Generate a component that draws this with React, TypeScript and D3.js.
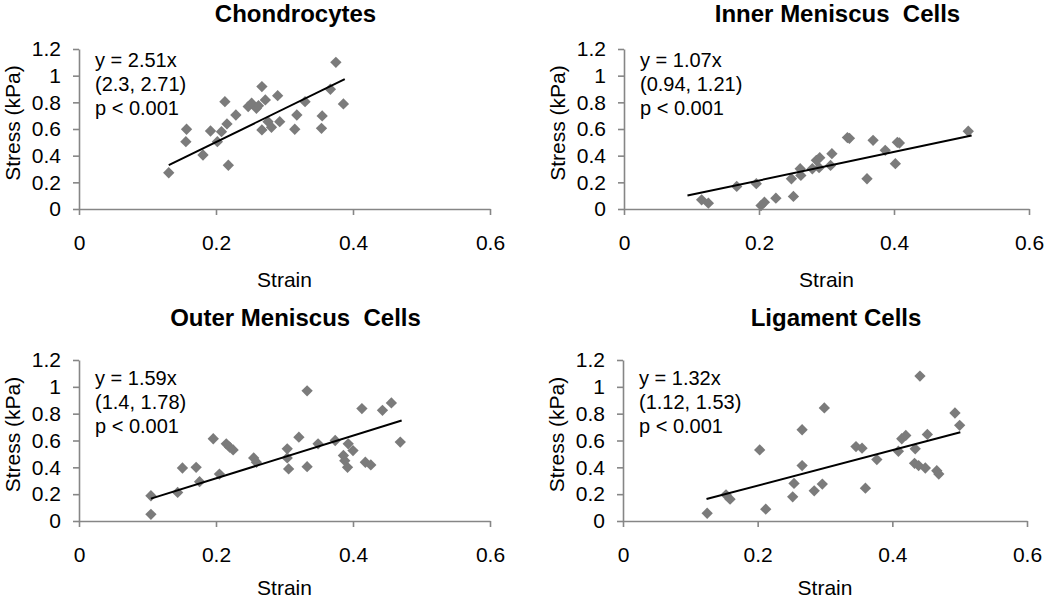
import { useEffect, useRef } from 'react';
import * as d3 from 'd3';

// strain, stress pairs
const chondrocytes: [number, number][] = [
  [0.131, 0.272], [0.157, 0.598], [0.156, 0.505], [0.181, 0.405], [0.192, 0.585],
  [0.202, 0.505], [0.208, 0.58], [0.216, 0.638], [0.213, 0.805], [0.218, 0.328],
  [0.229, 0.705], [0.247, 0.768], [0.252, 0.793], [0.259, 0.755], [0.262, 0.775],
  [0.267, 0.918], [0.272, 0.818], [0.29, 0.85], [0.276, 0.655], [0.267, 0.593],
  [0.281, 0.613], [0.293, 0.655], [0.315, 0.598], [0.318, 0.705], [0.33, 0.805],
  [0.354, 0.605], [0.355, 0.698], [0.367, 0.898], [0.375, 1.1], [0.386, 0.788],
];

const innerMeniscus: [number, number][] = [
  [0.115, 0.069], [0.125, 0.044], [0.167, 0.169], [0.196, 0.19], [0.203, 0.026],
  [0.208, 0.051], [0.225, 0.081], [0.248, 0.227], [0.251, 0.094], [0.261, 0.302],
  [0.262, 0.252], [0.279, 0.302], [0.285, 0.365], [0.29, 0.385], [0.289, 0.31],
  [0.306, 0.327], [0.308, 0.415], [0.331, 0.536], [0.334, 0.53], [0.36, 0.227],
  [0.369, 0.515], [0.387, 0.44], [0.402, 0.34], [0.408, 0.495], [0.405, 0.5],
  [0.51, 0.583],
];

const outerMeniscus: [number, number][] = [
  [0.105, 0.188], [0.105, 0.05], [0.144, 0.213], [0.151, 0.395], [0.171, 0.4],
  [0.176, 0.293], [0.196, 0.613], [0.205, 0.35], [0.215, 0.575], [0.22, 0.55],
  [0.225, 0.53], [0.255, 0.47], [0.259, 0.438], [0.304, 0.538], [0.304, 0.47],
  [0.306, 0.388], [0.321, 0.625], [0.333, 0.97], [0.333, 0.405], [0.349, 0.575],
  [0.374, 0.6], [0.386, 0.488], [0.388, 0.45], [0.393, 0.575], [0.392, 0.4],
  [0.4, 0.525], [0.413, 0.838], [0.418, 0.438], [0.426, 0.418], [0.443, 0.825],
  [0.456, 0.88], [0.469, 0.588],
];

const ligament: [number, number][] = [
  [0.125, 0.058], [0.153, 0.195], [0.159, 0.163], [0.203, 0.53], [0.212, 0.088],
  [0.252, 0.18], [0.254, 0.28], [0.266, 0.68], [0.266, 0.413], [0.284, 0.225],
  [0.296, 0.275], [0.299, 0.843], [0.346, 0.555], [0.355, 0.543], [0.36, 0.245],
  [0.377, 0.458], [0.409, 0.52], [0.414, 0.613], [0.42, 0.638], [0.434, 0.538],
  [0.433, 0.43], [0.441, 1.08], [0.439, 0.413], [0.449, 0.395], [0.452, 0.645],
  [0.466, 0.375], [0.469, 0.35], [0.493, 0.805], [0.5, 0.713],
];

const titles = ['Chondrocytes', 'Inner Meniscus  Cells', 'Outer Meniscus  Cells', 'Ligament Cells'];
const slopes = [2.51, 1.07, 1.59, 1.32];
const fitRanges: [number, number][] = [[0.131, 0.388], [0.094, 0.515], [0.105, 0.471], [0.124, 0.501]];
const equations = [
  ['y = 2.51x', '(2.3, 2.71)', 'p < 0.001'],
  ['y = 1.07x', '(0.94, 1.21)', 'p < 0.001'],
  ['y = 1.59x', '(1.4, 1.78)', 'p < 0.001'],
  ['y = 1.32x', '(1.12, 1.53)', 'p < 0.001'],
];
const xTicks = [0, 0.2, 0.4, 0.6];
const yTicks = [0, 0.2, 0.4, 0.6, 0.8, 1, 1.2];

const FONT = "'Liberation Sans', Arial, sans-serif";
const AXIS_GREY = '#868686';
const MARKER = '#7b7b7b';

const layout = [
  { x0: 79, x1: 490, y0: 209, y1: 49, title: 22, xlab: 287, ann: 66.5 },
  { x0: 624, x1: 1029, y0: 209, y1: 49, title: 22, xlab: 287, ann: 66.5 },
  { x0: 79, x1: 490, y0: 521, y1: 360, title: 326, xlab: 595, ann: 385 },
  { x0: 623, x1: 1027, y0: 521, y1: 360, title: 326, xlab: 595, ann: 385 },
];

const App = () => {
  const svgRef = useRef<SVGSVGElement>(null);

  useEffect(() => {
    const svg = d3.select(svgRef.current);
    svg.selectAll('*').remove();
    const panels = [chondrocytes, innerMeniscus, outerMeniscus, ligament];
    const fmt = (d: d3.NumberValue) => String(+(+d).toFixed(1));

    panels.forEach((data, i) => {
      const L = layout[i];
      const x = d3.scaleLinear().domain([0, 0.6]).range([L.x0, L.x1]);
      const y = d3.scaleLinear().domain([0, 1.2]).range([L.y0, L.y1]);
      const g = svg.append('g');

      const yAxis = g.append('g')
        .attr('transform', `translate(${L.x0},0)`)
        .call(d3.axisLeft(y).tickValues(yTicks).tickFormat(fmt).tickSize(6).tickSizeOuter(0).tickPadding(12));
      const xAxis = g.append('g')
        .attr('transform', `translate(0,${L.y0})`)
        .call(d3.axisBottom(x).tickValues(xTicks).tickFormat(fmt).tickSize(6).tickSizeOuter(0).tickPadding(20));
      [yAxis, xAxis].forEach(a => {
        a.select('.domain').attr('stroke', AXIS_GREY).attr('stroke-width', 1.6);
        a.selectAll('.tick line').attr('stroke', AXIS_GREY).attr('stroke-width', 1.6);
        a.selectAll('.tick text').attr('fill', '#000').style('font-size', '21px').style('font-family', FONT);
      });

      g.selectAll('path.pt')
        .data(data)
        .enter().append('path')
        .attr('class', 'pt')
        .attr('d', d3.symbol(d3.symbolSquare, 64)())
        .attr('transform', d => `translate(${x(d[0])},${y(d[1])}) rotate(45)`)
        .attr('fill', MARKER);

      const line = d3.line<number>().x(d => x(d)).y(d => y(d * slopes[i]));
      g.append('path')
        .attr('d', line(fitRanges[i]))
        .attr('fill', 'none')
        .attr('stroke', '#000')
        .attr('stroke-width', 2);

      g.append('text')
        .attr('x', (L.x0 + L.x1) / 2 + 11)
        .attr('y', L.title)
        .attr('text-anchor', 'middle')
        .style('white-space', 'pre')
        .style('font-family', FONT)
        .style('font-size', '24px')
        .style('font-weight', 'bold')
        .text(titles[i]);

      g.append('text')
        .attr('x', (L.x0 + L.x1) / 2)
        .attr('y', L.xlab)
        .attr('text-anchor', 'middle')
        .style('font-family', FONT)
        .style('font-size', '21px')
        .text('Strain');

      g.append('text')
        .attr('transform', `translate(${L.x0 - 66},${(L.y0 + L.y1) / 2 - 6}) rotate(-90)`)
        .attr('text-anchor', 'middle')
        .attr('dy', '0.35em')
        .style('font-family', FONT)
        .style('font-size', '21px')
        .text('Stress (kPa)');

      g.selectAll('text.eq')
        .data(equations[i])
        .enter().append('text')
        .attr('class', 'eq')
        .attr('x', L.x0 + 16)
        .attr('y', (_, j) => L.ann + j * 24.2)
        .style('font-family', FONT)
        .style('font-size', '20px')
        .text(d => d);
    });
  }, []);

  return (
    <svg
      ref={svgRef}
      width={1050}
      height={600}
      style={{ position: 'absolute', left: 0, top: 0, background: '#fff' }}
    />
  );
};

export default App;
